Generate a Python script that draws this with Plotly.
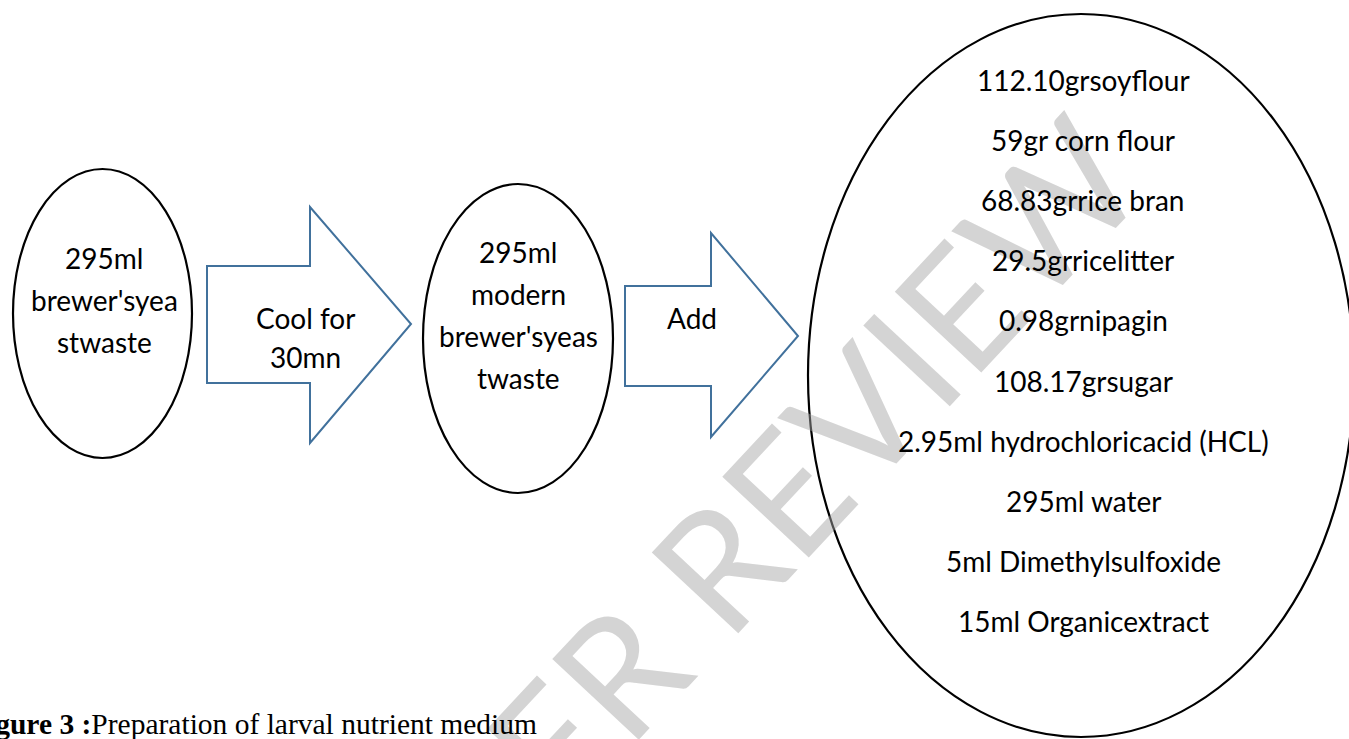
import plotly.graph_objects as go

# ---- content ----
step1_lines = ["295ml", "brewer'syea", "stwaste"]
arrow1_lines = ["Cool for", "30mn"]
step2_lines = ["295ml", "modern", "brewer'syeas", "twaste"]
arrow2_lines = ["Add"]
ingredients = [
    "112.10grsoyflour",
    "59gr corn flour",
    "68.83grrice bran",
    "29.5grricelitter",
    "0.98grnipagin",
    "108.17grsugar",
    "2.95ml hydrochloricacid (HCL)",
    "295ml water",
    "5ml Dimethylsulfoxide",
    "15ml Organicextract",
]
caption_bold = "Figure 3 :"
caption_rest = "Preparation of larval nutrient medium"
watermark = "PEER REVIEW"

# ---- layout geometry (pixel space) ----
W, H = 1349, 739
FONT = "Lato"
FS = 28
BLACK = "#000000"
BLUE = "#41719C"

ellipses = [
    (13, 169, 192, 458),
    (423, 184, 613, 493),
    (808, 14, 1354, 737),
]
# block arrows: body_left, body_top, body_bottom, head_x, head_top, head_bottom, tip_x, tip_y
arrows = [
    (207, 266, 383, 310, 207, 443, 411, 324),
    (625, 286, 386, 711, 233, 437, 798, 336),
]

fig = go.Figure()

shapes = []
for (x0, y0, x1, y1) in ellipses:
    shapes.append(dict(type="circle", xref="x", yref="y", x0=x0, y0=y0, x1=x1, y1=y1,
                       line=dict(color=BLACK, width=2.2), fillcolor="rgba(0,0,0,0)", layer="below"))
for (bl, bt, bb, hx, ht, hb, tx, ty) in arrows:
    path = f"M {bl},{bt} L {hx},{bt} L {hx},{ht} L {tx},{ty} L {hx},{hb} L {hx},{bb} L {bl},{bb} Z"
    shapes.append(dict(type="path", xref="x", yref="y", path=path,
                       line=dict(color=BLUE, width=2), fillcolor="rgba(0,0,0,0)", layer="below"))

annotations = []
# watermark first so other text sits above it
annotations.append(dict(text=watermark, x=745, y=532, xref="x", yref="y", showarrow=False,
                        textangle=-47, xanchor="center", yanchor="middle",
                        font=dict(family=FONT, size=165, color="rgba(165,165,165,0.48)")))

def add_lines(lines, cx, ys):
    for t, y in zip(lines, ys):
        annotations.append(dict(text=t, x=cx, y=y, xref="x", yref="y", showarrow=False,
                                xanchor="center", yanchor="middle",
                                font=dict(family=FONT, size=FS, color=BLACK)))

add_lines(step1_lines, 104, [258, 300, 342])
add_lines(arrow1_lines, 305, [318, 357])
add_lines(step2_lines, 518, [252, 294, 336, 378])
add_lines(arrow2_lines, 692, [318])
add_lines(ingredients, 1083, [80 + 60.1 * i for i in range(len(ingredients))])

annotations.append(dict(text=f"<b>{caption_bold}</b>{caption_rest}", x=0, y=724, xref="x", yref="y",
                        xshift=-33, showarrow=False, xanchor="left", yanchor="middle",
                        font=dict(family="Liberation Serif", size=29.5, color=BLACK)))

fig.update_layout(
    width=W, height=H,
    margin=dict(l=0, r=0, t=0, b=0),
    paper_bgcolor="white", plot_bgcolor="white",
    xaxis=dict(range=[0, W], visible=False, fixedrange=True),
    yaxis=dict(range=[H, 0], visible=False, fixedrange=True),
    shapes=shapes, annotations=annotations, showlegend=False,
)

fig.write_html("out.html", config={"displayModeBar": False},
               post_script="document.body.style.margin='0';document.body.style.overflow='hidden';")
